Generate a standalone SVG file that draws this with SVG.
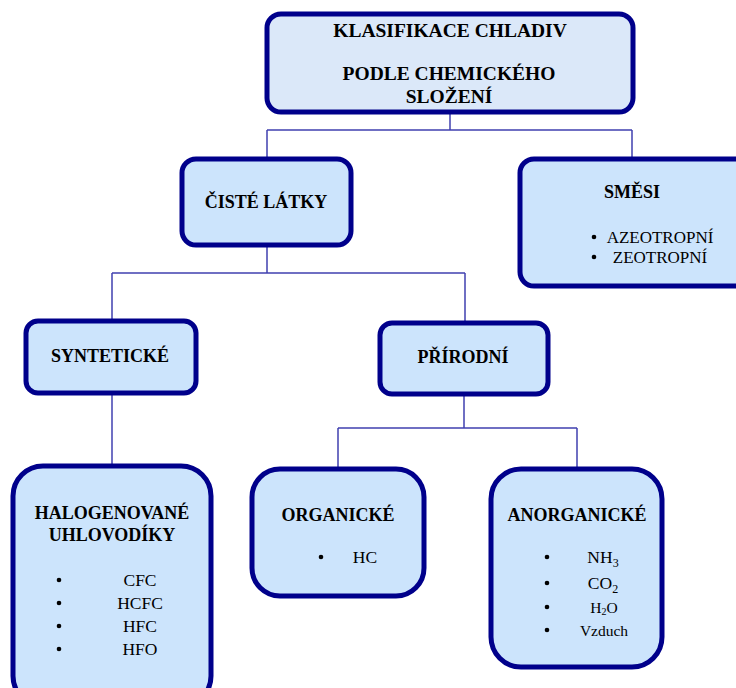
<svg xmlns="http://www.w3.org/2000/svg" width="736" height="688" viewBox="0 0 736 688">
<style>
.box{fill:#cce4fc;stroke:#00008b;stroke-width:5}
.top{fill:#dbe8f9}
.h{font-family:"Liberation Serif",serif;font-weight:bold;font-size:18px;fill:#000;text-anchor:middle}
.big{font-size:19.5px}
.t{font-family:"Liberation Serif",serif;font-size:17.5px;fill:#000;text-anchor:middle}
.m{font-size:17px}
.s{font-size:15.5px}
.c{fill:none;stroke:#4040b0;stroke-width:1.5}
</style>
<rect width="736" height="688" fill="#fff"/>
<g id="connectors" class="c">
<path d="M450 112V130M267 130H632M267 130V159M632 130V159"/>
<path d="M267 245V273M112 273H465M112 273V321M465 273V323"/>
<path d="M112 394V466"/>
<path d="M464 395V428M338 428H577M338 428V468M577 428V468"/>
</g>
<g id="root">
<rect class="box top" x="267" y="14" width="366" height="98" rx="14"/>
<text class="h big" x="450" y="37">KLASIFIKACE CHLADIV</text>
<text class="h big" x="449" y="80">PODLE CHEMICKÉHO</text>
<text class="h big" x="449" y="103">SLOŽENÍ</text>
</g>
<g id="ciste">
<rect class="box" x="182" y="159" width="169" height="86" rx="14"/>
<text class="h" x="266" y="208">ČISTÉ LÁTKY</text>
</g>
<g id="smesi">
<rect class="box" x="520" y="159" width="230" height="127" rx="14"/>
<text class="h" x="632" y="198">SMĚSI</text>
<circle cx="594" cy="237" r="2.3"/><text class="t m" x="660" y="243">AZEOTROPNÍ</text>
<circle cx="594" cy="257" r="2.3"/><text class="t m" x="660" y="263">ZEOTROPNÍ</text>
</g>
<g id="synteticke">
<rect class="box" x="26" y="321" width="170" height="72" rx="12"/>
<text class="h" x="110" y="362">SYNTETICKÉ</text>
</g>
<g id="prirodni">
<rect class="box" x="380" y="323" width="168" height="71" rx="12"/>
<text class="h" x="463" y="363">PŘÍRODNÍ</text>
</g>
<g id="halogenovane">
<rect class="box" x="13" y="466" width="198" height="240" rx="30"/>
<text class="h" x="112" y="519">HALOGENOVANÉ</text>
<text class="h" x="112" y="541">UHLOVODÍKY</text>
<circle cx="59" cy="580" r="2.3"/><text class="t" x="140" y="586">CFC</text>
<circle cx="59" cy="603" r="2.3"/><text class="t" x="140" y="609">HCFC</text>
<circle cx="59" cy="626" r="2.3"/><text class="t" x="140" y="632">HFC</text>
<circle cx="59" cy="649" r="2.3"/><text class="t" x="140" y="655">HFO</text>
</g>
<g id="organicke">
<rect class="box" x="252" y="469" width="172" height="127" rx="28"/>
<text class="h" x="338" y="521">ORGANICKÉ</text>
<circle cx="321" cy="557" r="2.3"/><text class="t" x="365" y="563">HC</text>
</g>
<g id="anorganicke">
<rect class="box" x="491" y="469" width="171" height="198" rx="30"/>
<text class="h" x="577" y="521">ANORGANICKÉ</text>
<circle cx="547" cy="557" r="2.3"/><text class="t" x="603" y="563">NH<tspan font-size="12" dy="4">3</tspan></text>
<circle cx="547" cy="583" r="2.3"/><text class="t" x="603" y="589">CO<tspan font-size="12" dy="4">2</tspan></text>
<circle cx="547" cy="607" r="2.3"/><text class="t s" x="604" y="613">H<tspan font-size="10" dy="2">2</tspan><tspan dy="-2">O</tspan></text>
<circle cx="547" cy="630" r="2.3"/><text class="t s" x="604" y="636">Vzduch</text>
</g>
</svg>
